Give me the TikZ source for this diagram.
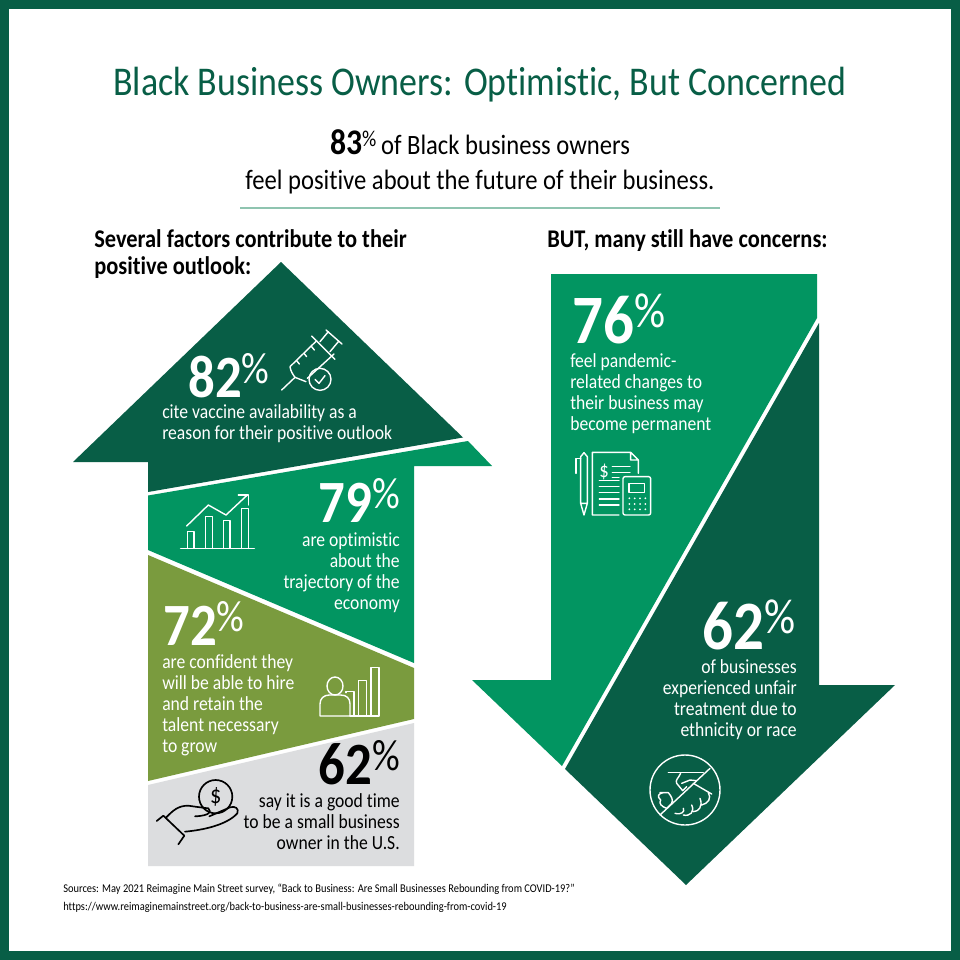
\documentclass[tikz,border=0pt]{standalone}
\usepackage{fontspec}
\setmainfont[FakeStretch=0.88,Ligatures=NoCommon]{Carlito}
\definecolor{darkgreen}{HTML}{085E46}
\definecolor{midgreen}{HTML}{029561}
\definecolor{olivegreen}{HTML}{7A9B3E}
\definecolor{lightgrey}{HTML}{DCDDDF}
\definecolor{rulegreen}{HTML}{8FC4B0}
\newcommand{\pct}[1]{{\bfseries\fontsize{45}{45}\selectfont #1}\raisebox{10pt}{\fontsize{33}{33}\selectfont\%}}
\newcommand{\bigpct}[1]{{\bfseries\fontsize{52}{52}\selectfont #1}\raisebox{12pt}{\fontsize{37}{37}\selectfont\%}}
\tikzset{
 bignum/.style={inner sep=0pt,white},
 bodytext/.style={inner sep=0pt,white,font=\fontsize{15}{15.75}\selectfont},
 headtext/.style={inner sep=0pt,anchor=base west,font=\fontsize{19.1}{20}\selectfont\bfseries},
 icon/.style={draw=white,line width=1.05pt,line join=round,line cap=round},
 iconblack/.style={draw=black,line width=1.25pt,line join=round,line cap=round}
}
\begin{document}
\begin{tikzpicture}[x=0.75pt,y=-0.75pt]
\useasboundingbox (0,0) rectangle (960,960);
\fill[darkgreen] (0,0) rectangle (960,960);
\fill[white] (9,9) rectangle (951,951);

% heading
\node[inner sep=0pt,anchor=base,darkgreen,font=\fontsize{30.6}{31}\selectfont] (title) at (480,95) {Black Business Owners: Optimistic, But Concerned};
\node[inner sep=0pt,anchor=base,font=\fontsize{21}{21}\selectfont] (subone) at (480,154) {{\bfseries\fontsize{27}{27}\selectfont 83}\raisebox{6pt}{\fontsize{17}{17}\selectfont\%}\,of Black business owners};
\node[inner sep=0pt,anchor=base,font=\fontsize{21}{21}\selectfont] (subtwo) at (480,189) {feel positive about the future of their business.};
\draw[rulegreen,line width=0.8pt] (240,208) -- (720,208);
\node[headtext] (headleft) at (94,247) {Several factors contribute to their};
\node[headtext] (headleftb) at (94,274) {positive outlook:};
\node[headtext] (headright) at (547,247) {BUT, many still have concerns:};

% up arrow
\fill[darkgreen] (281,262) -- (463,437.5) -- (148,492) -- (148,462) -- (73,462) -- cycle;
\fill[midgreen] (148,495.5) -- (468,441) -- (492,466) -- (414,466) -- (414,663) -- (148,550) -- cycle;
\fill[olivegreen] (148,555) -- (414,668) -- (414,719) -- (148,781) -- cycle;
\fill[lightgrey] (148,785) -- (414,723) -- (414,866) -- (148,866) -- cycle;

% down arrow
\fill[midgreen] (551,274) -- (817,274) -- (817,318) -- (562,766) -- (472,680) -- (551,680) -- cycle;
\fill[darkgreen] (819,323) -- (819,685) -- (895,685) -- (686,885) -- (565,769) -- cycle;

% numbers and their texts
\node[bignum,anchor=base west] (numa) at (188,397) {\pct{82}};
\node[bodytext,anchor=base west,align=left] (txta) at (162,439) {cite vaccine availability as a\\reason for their positive outlook};
\node[bignum,anchor=base east] (numb) at (400,522) {\pct{79}};
\node[bodytext,anchor=base east,align=right] (txtb) at (400,609) {are optimistic\\about the\\trajectory of the\\economy};
\node[bignum,anchor=base west] (numc) at (163,645) {\pct{72}};
\node[bodytext,anchor=base west,align=left] (txtc) at (162,752) {are confident they\\will be able to hire\\and retain the\\talent necessary\\to grow};
\node[bignum,anchor=base east,black] (numd) at (400,784) {\pct{62}};
\node[bodytext,anchor=base east,align=right,black] (txtd) at (400,849) {say it is a good time\\to be a small business\\owner in the U.S.};
\node[bignum,anchor=base west] (nume) at (572,343) {\bigpct{76}};
\node[bodytext,anchor=base west,align=left] (txte) at (570,430) {feel pandemic-\\related changes to\\their business may\\become permanent};
\node[bignum,anchor=base east] (numf) at (796,649) {\bigpct{62}};
\node[bodytext,anchor=base east,align=right] (txtf) at (797,736) {of businesses\\experienced unfair\\treatment due to\\ethnicity or race};

% sources
\node[inner sep=0pt,anchor=base west,font=\fontsize{8.9}{8.9}\selectfont] (srca) at (63,892) {Sources: May 2021 Reimagine Main Street survey, “Back to Business: Are Small Businesses Rebounding from COVID-19?”};
\node[inner sep=0pt,anchor=base west,font=\fontsize{8.9}{8.9}\selectfont] (srcb) at (63,910) {https://www.reimaginemainstreet.org/back-to-business-are-small-businesses-rebounding-from-covid-19};

% syringe
\begin{scope}[shift={(270,320)},x=0.25pt,y=-0.25pt]
 \draw[icon] (35,210) -- (75,172);
 \draw[icon] (60,140) -- (140,62) (60,140) .. controls (62,155) and (70,165) .. (75,172) -- (108,185);
 \draw[icon] (112,175) -- (192,102);
 \draw[icon] (125,48) -- (195,118) (150,65) -- (175,35) (180,95) -- (205,65) (168,30) -- (216,72);
 \draw[icon] (80,122) -- (88,132) (102,100) -- (110,110) (125,80) -- (133,90);
 \draw[icon] (150,178) circle (33);
 \draw[icon] (135,178) -- (147,190) -- (165,167);
\end{scope}

% rising chart
\begin{scope}[shift={(60,250)},x=0.25pt,y=-0.25pt]
 \draw[icon] (362,895) -- (583,895);
 \foreach \bx/\by in {382/845,437/800,490/812,545/775} {
  \draw[icon] (\bx,895) -- (\bx,\by) -- +(20,0) -- +(20,895-\by);
 }
 \draw[icon] (380,828) -- (445,765) -- (498,795) -- (562,735);
 \draw[icon] (535,735) -- (565,735) -- (565,765);
\end{scope}

% person and bars
\begin{scope}[shift={(140,560)},x=0.25pt,y=-0.25pt]
 \draw[icon] (585,378) ellipse (24 and 27);
 \draw[icon] (540,468) -- (540,432) .. controls (540,415) and (552,405) .. (568,405) -- (602,405) .. controls (620,405) and (630,415) .. (630,432) -- (630,468) -- cycle;
 \draw[icon] (618,398) -- (618,395) -- (642,395) -- (642,468);
 \draw[icon] (655,468) -- (655,362) -- (680,362) -- (680,468);
 \draw[icon] (693,468) -- (693,322) -- (717,322) -- (717,468) -- (630,468);
\end{scope}

% hand with coin
\begin{scope}[shift={(150,775)},x=0.25pt,y=-0.25pt]
 \draw[iconblack] (197,65) circle (50);
 \node[inner sep=0pt,font=\fontsize{19}{19}\selectfont] (coin) at (197,65) {\$};
 \draw[iconblack] (20,138) -- (40,122) -- (103,182) -- (85,208);
 \draw[iconblack] (48,128) .. controls (70,105) and (85,92) .. (115,92) .. controls (135,95) and (150,97) .. (175,100) .. controls (185,110) and (180,122) .. (135,124);
 \draw[iconblack] (105,170) .. controls (160,165) and (230,150) .. (262,115) .. controls (268,100) and (255,92) .. (240,97) -- (178,124);
\end{scope}

% paper, pen, calculator
\begin{scope}[shift={(470,270)},x=0.25pt,y=-0.25pt]
 \draw[icon] (318,610) -- (318,565) -- (332,565);
 \draw[icon] (332,700) -- (332,560) -- (342,548) -- (352,560) -- (352,700) -- (342,735) -- cycle (332,700) -- (352,700);
 \draw[icon] (447,735) -- (367,735) -- (367,547) -- (482,547) -- (505,570) -- (505,610) (482,547) -- (482,570) -- (505,570);
 \node[inner sep=0pt,white,font=\fontsize{16}{16}\selectfont] (dollar) at (402,605) {\$};
 \foreach \ly in {590,607} { \draw[icon] (427,\ly) -- (480,\ly); }
 \draw[icon] (427,622) -- (447,622);
 \foreach \ly in {632,650,668,687,705} { \draw[icon] (388,\ly) -- (447,\ly); }
 \draw[icon,rounded corners=1.5pt] (459,620) rectangle (542,735);
 \draw[icon] (477,640) rectangle (524,667);
 \foreach \dx in {478,494,510,526} {
  \foreach \dy in {685,702,718} { \fill[white] (\dx,\dy) circle (3); }
 }
\end{scope}

% refused handshake
\begin{scope}[shift={(640,750)},x=0.25pt,y=-0.25pt]
 \draw[icon] (135,120) circle (105);
 \draw[icon] (60,195) -- (210,55);
 \draw[icon] (85,68) -- (190,68);
 \draw[icon] (122,70) .. controls (115,85) and (105,90) .. (110,100) -- (128,122) -- (140,110) (125,100) -- (150,90) -- (170,92);
 \draw[icon] (60,128) -- (85,128) .. controls (95,140) and (100,150) .. (95,160) -- (80,175) .. controls (65,170) and (55,160) .. (62,150) .. controls (50,140) and (55,130) .. (70,128);
 \draw[icon] (160,100) -- (215,132) (105,190) .. controls (125,195) and (135,185) .. (130,175) (130,195) .. controls (150,200) and (165,185) .. (155,165) (160,185) .. controls (175,185) and (190,170) .. (180,145) (185,165) .. controls (205,160) and (215,145) .. (205,128);
\end{scope}
\end{tikzpicture}
\end{document}
